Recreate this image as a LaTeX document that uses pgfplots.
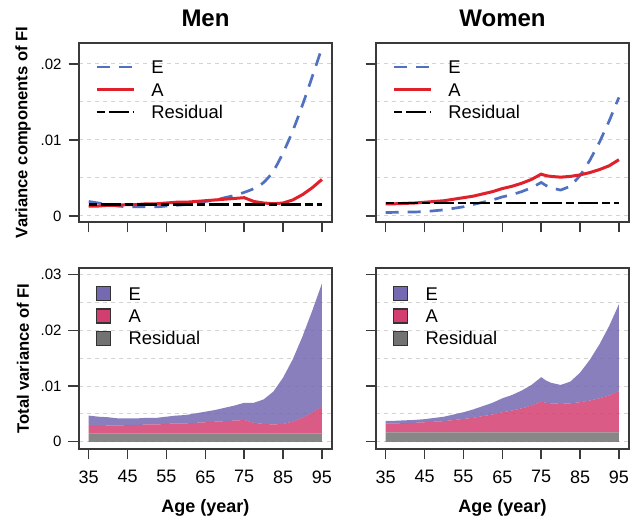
\documentclass[border=0pt]{standalone}
\usepackage{fontspec}
\setmainfont{Liberation Sans}
\usepackage{pgfplots}
\usepackage{pgfplotstable}
\pgfplotsset{compat=1.18}

\definecolor{cE}{HTML}{5170C0}
\definecolor{cA}{HTML}{E0202A}
\definecolor{fE}{HTML}{7569B2}
\definecolor{fA}{HTML}{D33E71}
\definecolor{fR}{HTML}{727272}
\definecolor{gridc}{HTML}{D3D3D3}
\definecolor{axc}{HTML}{3A3A3A}

\pgfplotstableread{
age E A R
35 0.0019 0.0013 0.0015
37.5 0.0017 0.0013 0.0015
40 0.0015 0.0014 0.0015
42.5 0.0013 0.0014 0.0015
45 0.0012 0.0015 0.0015
47.5 0.0012 0.0015 0.0015
50 0.0012 0.0016 0.0015
52.5 0.0012 0.0016 0.0015
55 0.0013 0.0017 0.0015
57.5 0.0014 0.0018 0.0015
60 0.0015 0.0018 0.0015
62.5 0.0017 0.0019 0.0015
65 0.0019 0.0020 0.0015
67.5 0.0021 0.0021 0.0015
70 0.0024 0.0022 0.0015
72.5 0.0027 0.0023 0.0015
75 0.0031 0.0024 0.0015
77.5 0.0036 0.0019 0.0015
80 0.0044 0.0017 0.0015
82.5 0.0059 0.0016 0.0015
85 0.0083 0.0017 0.0015
87.5 0.0112 0.0021 0.0015
90 0.0146 0.0028 0.0015
92.5 0.0183 0.0037 0.0015
95 0.0221 0.0048 0.0015
}\men

\pgfplotstableread{
age E A R
35 0.00045 0.0016 0.0017
37.5 0.00047 0.0016 0.0017
40 0.0005 0.00165 0.0017
42.5 0.00052 0.0017 0.0017
45 0.00056 0.0018 0.0017
47.5 0.00068 0.0019 0.0017
50 0.0008 0.0020 0.0017
52.5 0.0010 0.0022 0.0017
55 0.0012 0.0024 0.0017
57.5 0.0015 0.0026 0.0017
60 0.0018 0.0029 0.0017
62.5 0.0021 0.0032 0.0017
65 0.0025 0.0036 0.0017
67.5 0.0028 0.0039 0.0017
70 0.0032 0.0043 0.0017
72.5 0.0037 0.0048 0.0017
75 0.0044 0.0055 0.0017
76.25 0.0040 0.0053 0.0017
77.5 0.0037 0.0052 0.0017
80 0.0034 0.0051 0.0017
82.5 0.0039 0.0052 0.0017
85 0.0053 0.0054 0.0017
87.5 0.0073 0.0057 0.0017
90 0.0097 0.0061 0.0017
92.5 0.0125 0.0066 0.0017
95 0.0156 0.0074 0.0017
}\women

\pgfplotsset{
  base/.style={
    scale only axis, width=126.5pt,
    xmin=32.5, xmax=97.6,
    xtick={35,45,55,65,75,85,95},
    tick pos=left, tick align=outside,
    major tick length=5.25pt, minor tick length=0pt,
    scaled y ticks=false, scaled x ticks=false,
    axis line style={line width=0.8pt, draw=axc},
    tick style={line width=0.7pt, draw=axc},
    ymajorgrids, yminorgrids,
    major grid style={dash pattern=on 2pt off 2pt, draw=gridc, line width=0.5pt},
    minor grid style={dash pattern=on 2pt off 2pt, draw=gridc, line width=0.5pt},
    yticklabel style={font=\fontsize{7.5}{9}\selectfont},
    xticklabel style={font=\fontsize{9}{11}\selectfont, yshift=-2pt},
    every axis title shift=0pt,
    title style={font=\bfseries\fontsize{12}{14}\selectfont, at={(axis description cs:0.5,1)}, anchor=base, inner sep=0pt, yshift=8pt},
    every axis y label/.style={at={(axis description cs:0,0.5)}, xshift=-28pt, rotate=90, anchor=center, font=\bfseries\fontsize{8.3}{10}\selectfont},
    every axis x label/.style={at={(axis description cs:0.5,0)}, yshift=-29.6pt, anchor=center, font=\bfseries\fontsize{9}{11}\selectfont},
    legend cell align=left,
  },
  toprow/.style={
    base, height=89.5pt, ymin=-0.0008, ymax=0.02276,
    ytick={0,0.01,0.02}, minor ytick={0.005,0.015},
    xticklabel=\empty,
    legend style={at={(axis description cs:0,1)}, anchor=north west, xshift=8pt, yshift=-7pt,
      draw=none, fill=none, inner sep=0pt, row sep=0pt,
      font=\fontsize{9.2}{11}\selectfont,
      nodes={inner xsep=0pt, inner ysep=1.125pt, text height=7pt, text depth=2pt},
      /tikz/every odd column/.append style={column sep=7.9pt}},
    legend image code/.code={\draw[##1] (0pt,0.8pt) -- (18.6pt,0.8pt);},
  },
  botrow/.style={
    base, height=90.5pt, ymin=-0.0013, ymax=0.0312,
    ytick={0,0.01,0.02,0.03}, minor ytick={0.005,0.015,0.025},
    xticklabels={35,45,55,65,75,85,95},
    xlabel={Age (year)},
    stack plots=y, reverse legend,
    legend style={at={(axis description cs:0,1)}, anchor=north west, xshift=8.35pt, yshift=-7.9pt,
      draw=none, fill=none, inner sep=0pt, row sep=0pt,
      font=\fontsize{9.2}{11}\selectfont,
      nodes={inner xsep=0pt, inner ysep=1.075pt, text height=7pt, text depth=2pt},
      /tikz/every odd column/.append style={column sep=8.7pt}},
    legend image code/.code={\draw[##1, draw=black!80, line width=0.6pt, fill opacity=1] (0pt,-2.7pt) rectangle (7pt,4.3pt);},
  },
  Estyle/.style={cE, line width=1.35pt, dash pattern=on 6.5pt off 4.5pt},
  Astyle/.style={cA, line width=1.5pt},
  Rstyle/.style={black, line width=1.35pt, dash pattern=on 4pt off 2pt on 10pt off 2pt},
}

\begin{document}
\begin{tikzpicture}
\useasboundingbox (0,0) rectangle (318pt,259pt);

\begin{axis}[toprow, at={(39.5pt,148pt)}, anchor=south west,
  title={Men}, ylabel={Variance components of FI}, yticklabels={0,.01,.02}]
\addplot[Estyle, smooth] table[x=age,y=E]{\men};
\addplot[Astyle] table[x=age,y=A]{\men};
\addplot[Rstyle] table[x=age,y=R]{\men};
\legend{E,A,Residual}
\end{axis}

\begin{axis}[toprow, at={(188pt,148pt)}, anchor=south west,
  title={Women}, yticklabel=\empty]
\addplot[Estyle] table[x=age,y=E]{\women};
\addplot[Astyle] table[x=age,y=A]{\women};
\addplot[Rstyle] table[x=age,y=R]{\women};
\legend{E,A,Residual}
\end{axis}

\begin{axis}[botrow, at={(39.5pt,34.5pt)}, anchor=south west,
  ylabel={Total variance of FI}, yticklabels={0,.01,.02,.03}]
\addplot[fill=fR, draw=none, fill opacity=0.85] table[x=age,y=R]{\men} \closedcycle;
\addplot[fill=fA, draw=none, fill opacity=0.85] table[x=age,y=A]{\men} \closedcycle;
\addplot[fill=fE, draw=none, fill opacity=0.85] table[x=age,y=E]{\men} \closedcycle;
\legend{Residual,A,E}
\end{axis}

\begin{axis}[botrow, at={(188pt,34.5pt)}, anchor=south west,
  yticklabel=\empty]
\addplot[fill=fR, draw=none, fill opacity=0.85] table[x=age,y=R]{\women} \closedcycle;
\addplot[fill=fA, draw=none, fill opacity=0.85] table[x=age,y=A]{\women} \closedcycle;
\addplot[fill=fE, draw=none, fill opacity=0.85] table[x=age,y=E]{\women} \closedcycle;
\legend{Residual,A,E}
\end{axis}
\end{tikzpicture}
\end{document}
